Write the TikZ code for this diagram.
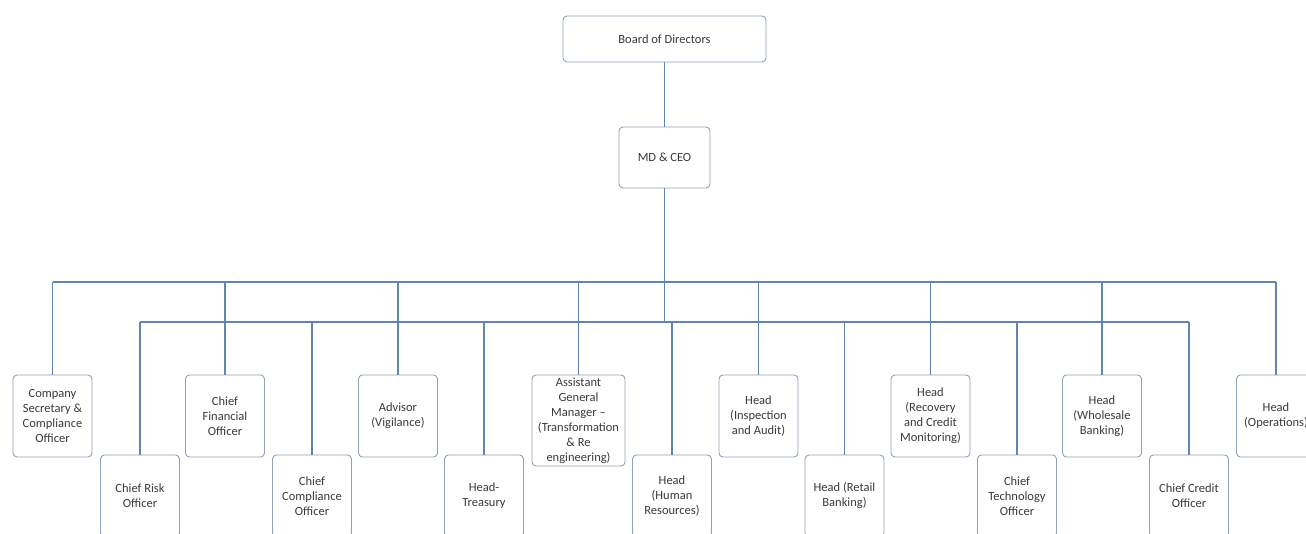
\documentclass[tikz,border=0pt]{standalone}
\usepackage{fontspec}
\setmainfont{Carlito}
\definecolor{linec}{HTML}{5F86B2}
\definecolor{boxc}{HTML}{8FA3B8}
\definecolor{txtc}{HTML}{3A3A3A}
\begin{document}
\begin{tikzpicture}[x=1pt,y=-1pt,
  orgbox/.style={draw=boxc, line width=0.9pt, fill=white, rounded corners=4pt,
    minimum width=79pt, minimum height=82pt, align=center, inner sep=1pt,
    font=\fontsize{12.5}{15}\selectfont, text=txtc},
  conn/.style={draw=linec, line width=1.3pt}]
\useasboundingbox (0,0) rectangle (1306,534);
\fill[white] (0,0) rectangle (1306,534);
% top
\node[orgbox, minimum width=203pt, minimum height=46pt] (bod) at (664.5,39) {Board of Directors};
\node[orgbox, minimum width=91pt, minimum height=61pt] (md) at (664.5,157.5) {MD \& CEO};
% upper row
\node[orgbox] (cs) at (52.5,416) {Company\\Secretary \&\\Compliance\\Officer};
\node[orgbox] (cfo) at (225,416) {Chief\\Financial\\Officer};
\node[orgbox] (adv) at (398,416) {Advisor\\(Vigilance)};
\node[orgbox, minimum width=93pt, minimum height=91pt] (agm) at (578.5,420.5) {Assistant\\General\\Manager –\\(Transformation\\\& Re\\engineering)};
\node[orgbox] (hia) at (758.5,416) {Head\\(Inspection\\and Audit)};
\node[orgbox] (hrc) at (930.5,416) {Head\\(Recovery\\and Credit\\Monitoring)};
\node[orgbox] (hwb) at (1102,416) {Head\\(Wholesale\\Banking)};
\node[orgbox] (hop) at (1276,416) {Head\\(Operations)};
% lower row
\node[orgbox] (cro) at (140,496) {Chief Risk\\Officer};
\node[orgbox] (cco) at (312,496) {Chief\\Compliance\\Officer};
\node[orgbox] (ht) at (484,496) {Head-\\Treasury};
\node[orgbox] (hhr) at (672,496) {Head\\(Human\\Resources)};
\node[orgbox] (hrb) at (844.5,496) {Head (Retail\\Banking)};
\node[orgbox] (cto) at (1017,496) {Chief\\Technology\\Officer};
\node[orgbox] (ccr) at (1189,496) {Chief Credit\\Officer};
% buses
\coordinate (ub) at (664.5,282);
\coordinate (lb) at (664.5,322);
\draw[conn] (bod.south) -- (md.north);
\draw[conn] (md.south) -- (lb);
\draw[conn] (cs.north |- ub) -- (hop.north |- ub);
\draw[conn] (cro.north |- lb) -- (ccr.north |- lb);
\foreach \n in {cs,cfo,adv,agm,hia,hrc,hwb,hop}{
  \draw[conn] (\n.north |- ub) -- (\n.north);
}
\foreach \n in {cro,cco,ht,hhr,hrb,cto,ccr}{
  \draw[conn] (\n.north |- lb) -- (\n.north);
}
\end{tikzpicture}
\end{document}
